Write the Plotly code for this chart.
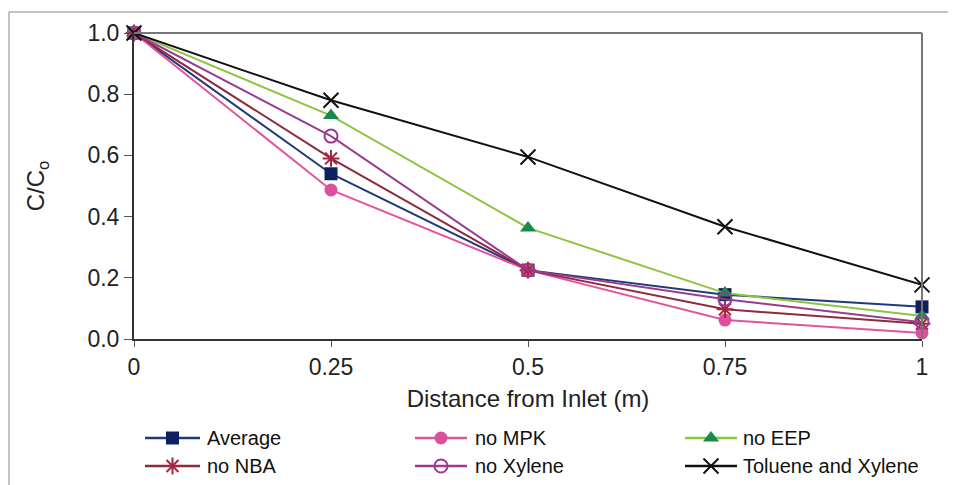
import plotly.graph_objects as go

distance = [0, 0.25, 0.5, 0.75, 1]
series_names = ["Average", "no MPK", "no EEP", "no NBA", "no Xylene", "Toluene and Xylene"]
average = [1.0, 0.54, 0.225, 0.145, 0.105]
no_mpk = [1.0, 0.487, 0.225, 0.062, 0.02]
no_eep = [1.0, 0.73, 0.363, 0.15, 0.075]
no_nba = [1.0, 0.59, 0.225, 0.097, 0.05]
no_xylene = [1.0, 0.663, 0.225, 0.13, 0.055]
tol_xyl = [1.0, 0.78, 0.595, 0.367, 0.177]
x_ticks = [0, 0.25, 0.5, 0.75, 1]
x_tick_labels = ["0", "0.25", "0.5", "0.75", "1"]
y_ticks = [0, 0.2, 0.4, 0.6, 0.8, 1.0]
y_tick_labels = ["0.0", "0.2", "0.4", "0.6", "0.8", "1.0"]

styles = [
    dict(line="#1f3a7a", mk="#0c1f5e", sym="square", size=13),
    dict(line="#e2559e", mk="#dc4f9c", sym="circle", size=13),
    dict(line="#8cc63f", mk="#178a4c", sym="triangle-up", size=14),
    dict(line="#8c2b3e", mk="#a3283f", sym="asterisk-open", size=14),
    dict(line="#9a3b90", mk="#9a3b90", sym="circle-open", size=13),
    dict(line="#111111", mk="#111111", sym="x-thin-open", size=15),
]
values = [average, no_mpk, no_eep, no_nba, no_xylene, tol_xyl]

# --- layout geometry (screen pixels; page has an 8px body margin) ---
OFF = 8
W, H = 956 - OFF, 485 - OFF
PL, PR, PT, PB = 134, 922, 33, 339          # plot area on screen
SB = 485                                     # bottom of figure on screen
main_domain_lo = (SB - PB) / (SB - PT)

def paper_x(sx):
    return (sx - PL) / (PR - PL)

def paper_y(sy):
    return (SB - sy) / (SB - PT)

font = "Liberation Sans, Arial, sans-serif"

# legend layout (screen px)
leg_cols = [(145, 200, 205), (415, 467, 473), (685, 737, 741)]  # line start, line end, text x
leg_rows = [438, 466]

fig = go.Figure()
for i, (name, ys, st) in enumerate(zip(series_names, values, styles)):
    open_sym = st["sym"].endswith("open")
    mk = dict(symbol=st["sym"], size=st["size"], color=st["mk"],
              line=dict(color=st["mk"], width=2 if open_sym else 0))
    fig.add_trace(go.Scatter(
        x=distance, y=ys, name=name, mode="lines+markers",
        line=dict(color=st["line"], width=2), marker=mk,
        cliponaxis=False, showlegend=False, xaxis="x", yaxis="y",
    ))
    # custom legend sample: line + marker
    c0, c1, tx = leg_cols[i % 3]
    ry = leg_rows[i // 3]
    fig.add_trace(go.Scatter(
        x=[c0, c1], y=[ry, ry], mode="lines",
        line=dict(color=st["line"], width=2.5),
        showlegend=False, hoverinfo="skip", xaxis="x2", yaxis="y2", cliponaxis=False,
    ))
    fig.add_trace(go.Scatter(
        x=[(c0 + c1) / 2], y=[ry], mode="markers", marker=mk,
        showlegend=False, hoverinfo="skip", xaxis="x2", yaxis="y2", cliponaxis=False,
    ))
    fig.add_annotation(x=tx, y=ry, xref="x2", yref="y2", text=name, showarrow=False,
                       xanchor="left", yanchor="middle", font=dict(family=font, size=20, color="#111"))

fig.update_layout(
    width=W, height=H,
    margin=dict(l=PL - OFF, r=W - (PR - OFF), t=PT - OFF, b=0, autoexpand=False),
    paper_bgcolor="white", plot_bgcolor="rgba(0,0,0,0)",
    font=dict(family=font, color="#222"),
    showlegend=False,
    xaxis=dict(range=[0, 1], tickvals=x_ticks, ticktext=x_tick_labels, showgrid=False, zeroline=False,
               showline=True, linecolor="#333", linewidth=2, ticks="outside", ticklen=6, tickcolor="#555",
               tickfont=dict(size=23, family=font, color="#222"), automargin=False, anchor="y",
               title=dict(text="Distance from Inlet (m)", font=dict(size=24, family=font, color="#222"), standoff=12)),
    yaxis=dict(range=[0, 1], domain=[main_domain_lo, 1], tickvals=y_ticks, ticktext=y_tick_labels,
               showgrid=False, zeroline=False,
               showline=True, linecolor="#333", linewidth=2, ticks="outside", ticklen=8, tickcolor="#555",
               tickfont=dict(size=23, family=font, color="#222"), automargin=False, anchor="x",
               title=dict(text="C/C<sub>o</sub>", font=dict(size=24, family=font, color="#222"), standoff=36)),
    xaxis2=dict(range=[PL, PR], domain=[0, 1], anchor="y2", visible=False, fixedrange=True),
    yaxis2=dict(range=[SB, PB], domain=[0, main_domain_lo], anchor="x2", visible=False, fixedrange=True),
    shapes=[
        dict(type="line", xref="paper", yref="paper", x0=0, x1=1, y0=1, y1=1, line=dict(color="#777", width=2)),
        dict(type="line", xref="paper", yref="paper", x0=1, x1=1, y0=main_domain_lo, y1=1,
             line=dict(color="#777", width=2)),
        dict(type="line", xref="paper", yref="paper", x0=paper_x(9), x1=paper_x(960),
             y0=paper_y(12), y1=paper_y(12), line=dict(color="#a9b0b8", width=1.5)),
        dict(type="line", xref="paper", yref="paper", x0=paper_x(9), x1=paper_x(9),
             y0=paper_y(12), y1=paper_y(495), line=dict(color="#a9b0b8", width=1.5)),
    ],
)

fig.write_html("out.html")
